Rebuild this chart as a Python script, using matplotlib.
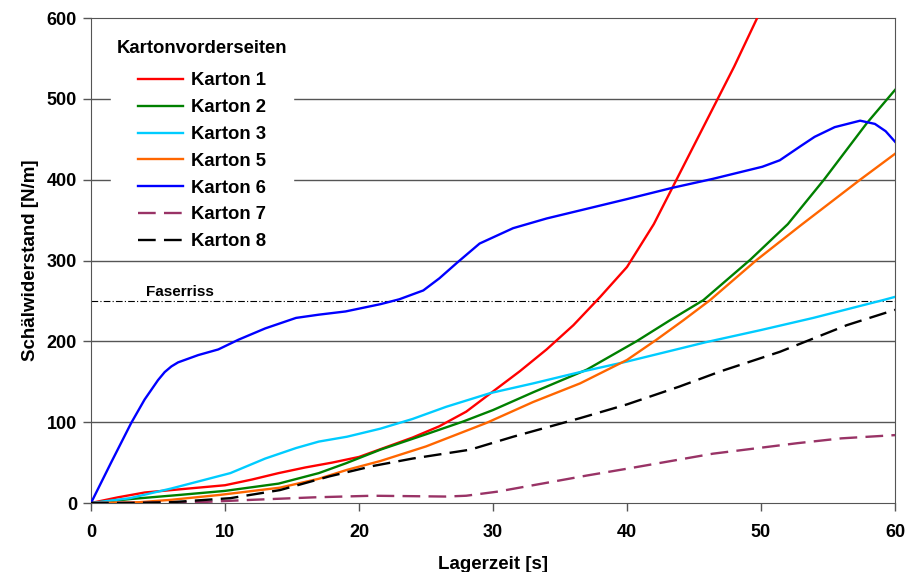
import matplotlib.pyplot as plt

t_k1 = [0, 2, 4, 6, 8, 10, 12, 14, 16, 18, 20, 22, 24, 26, 28, 30, 32, 34, 36, 38, 40, 42, 44, 46, 48, 50]
k1 = [0, 7, 13, 16, 19, 22, 29, 37, 44, 50, 57, 69, 81, 95, 113, 138, 163, 190, 220, 255, 292, 345, 410, 475, 540, 610]

t_k2 = [0, 3, 6.6, 10, 14, 17, 19, 21.6, 25, 27.8, 30, 33, 37, 40.7, 43.2, 45.7, 49.2, 52, 54.7, 57.9, 60]
k2 = [0, 5, 10, 15, 24, 37, 49, 66, 85, 101, 115, 137, 165, 200, 226, 251, 301, 345, 400, 470, 511]

t_k3 = [0, 2.9, 6, 10.4, 13, 15.3, 17, 19.1, 21.6, 24, 26.5, 29.8, 33, 36.5, 40, 45.9, 50, 53.9, 59.1, 60]
k3 = [0, 6, 18, 37, 55, 68, 76, 82, 92, 104, 119, 136, 148, 162, 175, 199, 214, 229, 251, 255]

t_k5 = [0, 3.6, 6, 9.6, 14.1, 17, 19.1, 21.6, 25, 29.5, 33, 36.5, 40, 42.2, 44.2, 46.2, 49.7, 53, 57.4, 60]
k5 = [0, 1, 4, 10, 19, 30, 41, 52, 70, 99, 125, 148, 177, 202, 226, 251, 301, 344, 400, 432]

t_k6 = [0, 1.5, 3, 4, 4.5, 5, 5.5, 6, 6.5, 7, 8, 9.5, 11, 13, 15.3, 17, 19, 21.6, 23, 24.8, 26, 27.3, 29,
        31.5, 34, 36.5, 40, 43.4, 46.4, 50.1, 51.4, 53, 54, 55.5, 57.4, 58.5, 59.3, 60]
k6 = [0, 50, 99, 128, 140, 152, 162, 169, 174, 177, 183, 190, 202, 216, 229, 233, 237, 246, 252, 263, 278,
      297, 321, 340, 352, 362, 376, 390, 401, 416, 424, 442, 453, 465, 473, 469, 460, 447]

t_k7 = [0, 8, 12.1, 16.6, 21, 26.5, 28, 30.3, 34, 37, 40.2, 46.4, 52.7, 56, 60]
k7 = [0, 1, 4, 7, 9, 8, 9, 14, 25, 34, 43, 61, 74, 80, 84]

t_k8 = [0, 3, 6, 10.4, 14.1, 17.8, 21.1, 24, 28.3, 31.5, 36.5, 40, 43.9, 47, 51.4, 56.4, 60]
k8 = [0, 0, 1, 6, 16, 33, 46, 55, 66, 82, 105, 122, 144, 163, 187, 220, 239]

faserriss = 250

plt.rcParams['font.family'] = ['Liberation Sans', 'DejaVu Sans']
plt.rcParams['font.weight'] = 'bold'

fig = plt.figure(figsize=(9.09, 5.72), dpi=100)
ax = fig.add_axes([0.1001, 0.1206, 0.8845, 0.8479])

for y in [100, 200, 300, 400, 500]:
    ax.axhline(y, color='#555555', lw=1, zorder=1)

ax.plot([0, 60], [faserriss, faserriss], color='black', lw=0.8, ls=(0, (6, 2, 1, 2)), zorder=2)
ax.text(4.1, faserriss + 2, 'Faserriss', fontsize=11, fontweight='bold', va='bottom')

lw = 1.7
ax.plot(t_k1, k1, color='#FF0000', lw=lw, label='Karton 1', zorder=3)
ax.plot(t_k2, k2, color='#008000', lw=lw, label='Karton 2', zorder=3)
ax.plot(t_k3, k3, color='#00CCFF', lw=lw, label='Karton 3', zorder=3)
ax.plot(t_k5, k5, color='#FF6600', lw=lw, label='Karton 5', zorder=3)
ax.plot(t_k6, k6, color='#0000FF', lw=lw, label='Karton 6', zorder=3)
ax.plot(t_k7, k7, color='#993366', lw=lw, ls=(0, (7.5, 3.5)), label='Karton 7', zorder=3)
ax.plot(t_k8, k8, color='black', lw=lw, ls=(0, (7.5, 3.5)), label='Karton 8', zorder=3)

ax.set_xlim(0, 60)
ax.set_ylim(0, 600)
ax.set_xticks(range(0, 61, 10))
ax.set_yticks(range(0, 601, 100))
ax.tick_params(direction='out', length=6, labelsize=13, width=1, color='#555555')
ax.tick_params(axis='x', pad=9)
ax.tick_params(axis='y', pad=4)
for lab in ax.get_xticklabels() + ax.get_yticklabels():
    lab.set_fontweight('bold')
for s in ax.spines.values():
    s.set_color('#555555')

ax.set_xlabel('Lagerzeit [s]', fontsize=13.5, fontweight='bold', labelpad=11)
ax.set_ylabel('Schälwiderstand [N/m]', fontsize=13.5, fontweight='bold', labelpad=6)

leg = ax.legend(title='Kartonvorderseiten', loc='upper left', bbox_to_anchor=(0.014, 0.985),
                frameon=True, fontsize=13.3, title_fontproperties={'weight': 'bold', 'size': 13.3},
                handlelength=2.4, handletextpad=0.45, labelspacing=0.53, borderpad=0.3)
leg._legend_box.sep += 4  # etwas mehr Abstand unter dem Titel
leg.get_frame().set_edgecolor('white')
leg.get_frame().set_facecolor('white')
leg.get_frame().set_alpha(1)
leg.set_zorder(4)

plt.savefig('out.png', dpi=100)
